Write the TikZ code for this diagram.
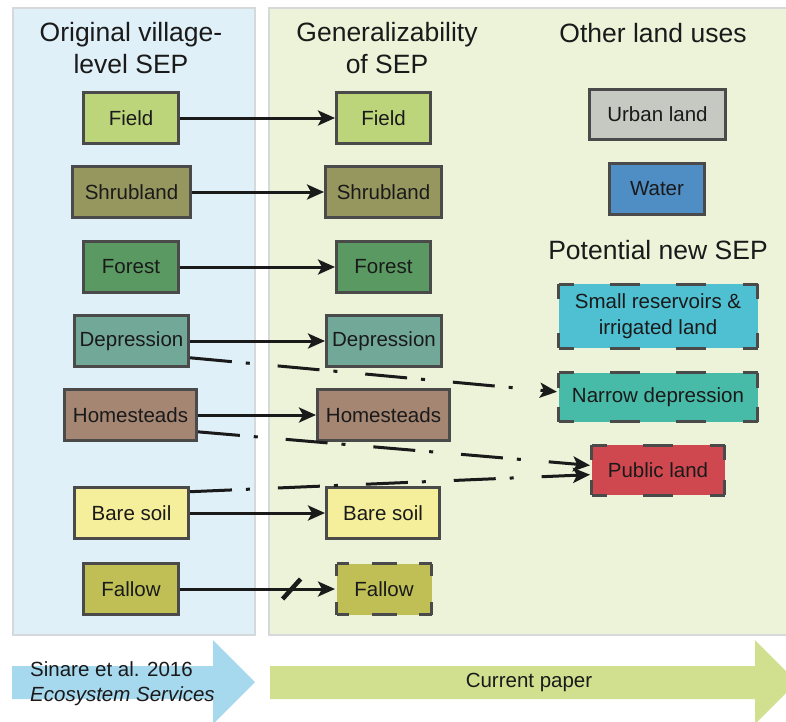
\documentclass[tikz,border=0pt]{standalone}
\usepackage{fontspec}
\setmainfont{Liberation Sans}
\definecolor{oldpanel}{RGB}{223,240,248}
\definecolor{newpanel}{RGB}{237,243,217}
\definecolor{panelline}{RGB}{214,217,219}
\definecolor{boxline}{RGB}{74,74,74}
\definecolor{ink}{RGB}{26,26,26}
\definecolor{fieldc}{RGB}{188,213,123}
\definecolor{shrubc}{RGB}{150,151,94}
\definecolor{forestc}{RGB}{90,154,98}
\definecolor{deprc}{RGB}{114,168,152}
\definecolor{homec}{RGB}{165,134,115}
\definecolor{barec}{RGB}{245,238,154}
\definecolor{fallowc}{RGB}{191,191,85}
\definecolor{urbanc}{RGB}{198,200,194}
\definecolor{waterc}{RGB}{79,142,196}
\definecolor{resc}{RGB}{79,192,210}
\definecolor{narrowc}{RGB}{71,187,168}
\definecolor{publicc}{RGB}{208,72,79}
\definecolor{oldarrow}{RGB}{166,216,238}
\definecolor{newarrow}{RGB}{208,224,143}
\usetikzlibrary{arrows.meta}
\usetikzlibrary{positioning}

% dashed frame with a dash centred on every corner: node, width, height, dash
\newcommand{\dashframe}[4]{%
	\pgfmathsetmacro{\onlen}{#4-3}%
	\pgfmathsetmacro{\halfon}{\onlen/2}%
	\pgfmathsetmacro{\offw}{#2/max(1,round(#2/(2*#4)))-\onlen}%
	\pgfmathsetmacro{\offh}{#3/max(1,round(#3/(2*#4)))-\onlen}%
	\draw[boxline, line width=3pt, line cap=square, dash pattern=on \onlen pt off \offw pt, dash phase=\halfon pt]
		(#1.north west) -- (#1.north east) (#1.south west) -- (#1.south east);
	\draw[boxline, line width=3pt, line cap=square, dash pattern=on \onlen pt off \offh pt, dash phase=\halfon pt]
		(#1.north west) -- (#1.south west) (#1.north east) -- (#1.south east);
}

\begin{document}
\begin{tikzpicture}[x=1pt, y=-1pt,
	every node/.style={text=ink, font=\fontsize{20.5}{25}\selectfont},
	heading/.style={font=\fontsize{26.5}{32}\selectfont, align=center},
	landbox/.style={draw=boxline, line width=3pt, minimum height=51pt, inner sep=0pt, align=center},
	newbox/.style={landbox, draw=none, outer sep=0pt, font=\fontsize{20.5}{26}\selectfont},
	flow/.style={-{Stealth[length=17pt, width=15pt, inset=4pt]}, line width=3pt, draw=ink},
	maybeflow/.style={flow, dash pattern=on 42pt off 14pt on 4pt off 28pt}]
	\useasboundingbox (0,0) rectangle (786,721);
				% panels
	\filldraw[fill=oldpanel, draw=panelline, line width=2pt] (13,8) rectangle (255,635);
	\filldraw[fill=newpanel, draw=panelline, line width=2pt] (269,8) rectangle (800,635);
	\node[heading] (oldhead) at (131,48.5) {Original village-\\level SEP};
	\node[heading] (newhead) at (387,48.5) {Generalizability\\of SEP};
	\node[heading] (otherhead) at (653,33) {Other land uses};
	\node[heading] (pothead) at (658,250) {Potential new SEP};
				% left column
	\node[landbox, fill=fieldc, minimum width=95pt] (field1) at (131,118) {Field};
	\node[landbox, fill=shrubc, minimum width=118pt] (shrub1) at (131.5,192) {Shrubland};
	\node[landbox, fill=forestc, minimum width=95pt] (forest1) at (131,267) {Forest};
	\node[landbox, fill=deprc, minimum width=114pt] (depr1) at (131.5,341) {Depression};
	\node[landbox, fill=homec, minimum width=132pt] (home1) at (130.5,415) {Homesteads};
	\node[landbox, fill=barec, minimum width=114pt] (bare1) at (131.5,513) {Bare soil};
	\node[landbox, fill=fallowc, minimum width=95pt] (fallow1) at (131,589) {Fallow};
				% middle column
	\node[landbox, fill=fieldc, minimum width=94pt] (field2) at (383.5,118) {Field};
	\node[landbox, fill=shrubc, minimum width=116pt] (shrub2) at (383.5,192) {Shrubland};
	\node[landbox, fill=forestc, minimum width=94pt] (forest2) at (383.5,267) {Forest};
	\node[landbox, fill=deprc, minimum width=115pt] (depr2) at (384,341) {Depression};
	\node[landbox, fill=homec, minimum width=132pt] (home2) at (383.5,415) {Homesteads};
	\node[landbox, fill=barec, minimum width=113pt] (bare2) at (383,513) {Bare soil};
	\node[newbox, fill=fallowc, minimum width=95pt] (fallow2) at (384,589) {Fallow};
	\dashframe{fallow2}{95}{51}{28}
				% right column
	\node[landbox, fill=urbanc, minimum width=136pt, minimum height=50pt] (urban) at (657.5,114) {Urban land};
	\node[landbox, fill=waterc, minimum width=95pt] (water) at (657,189) {Water};
	\node[newbox, fill=resc, minimum width=199pt, minimum height=64pt] (res) at (658,316) {Small reservoirs \&\\irrigated land};
	\node[newbox, fill=narrowc, minimum width=199pt, minimum height=49pt] (narrow) at (658,397) {Narrow depression};
	\node[newbox, fill=publicc, minimum width=133pt, minimum height=50pt] (public) at (658,470) {Public land};
	\dashframe{res}{199}{64}{33}
	\dashframe{narrow}{199}{49}{33}
	\dashframe{public}{133}{50}{33}
				% connectors
	\foreach \a in {field,shrub,forest,depr,home,bare}
		\draw[flow] (\a1) -- (\a2);
	\draw[flow] (fallow1) -- ([xshift=-1.5pt]fallow2.west) coordinate[pos=0.72] (cut);
	\draw[line width=4.5pt, draw=ink] ([shift={(-9,10)}]cut) -- ([shift={(9,-10)}]cut);
	\draw[maybeflow] (depr1.-16) -- ([xshift=-1.5pt]narrow.177);
	\draw[maybeflow] (home1.-14) -- ([xshift=-1.5pt]public.176);
	\draw[maybeflow] (bare1.20) -- ([xshift=-1.5pt]public.184);
				% bottom arrows
	\fill[oldarrow] (12,666) -- (213,666) -- (213,640) -- (255,682) -- (213,724) -- (213,699) -- (12,699) -- cycle;
	\fill[newarrow] (270,666) -- (755,666) -- (755,640) -- (797,682) -- (755,724) -- (755,699) -- (270,699) -- cycle;
	\node[anchor=west, align=left, inner sep=0pt] (oldlabel) at (30,684) {Sinare et al. 2016\\\textit{Ecosystem Services}};
	\node (newlabel) at (529,682) {Current paper};
\end{tikzpicture}
\end{document}
